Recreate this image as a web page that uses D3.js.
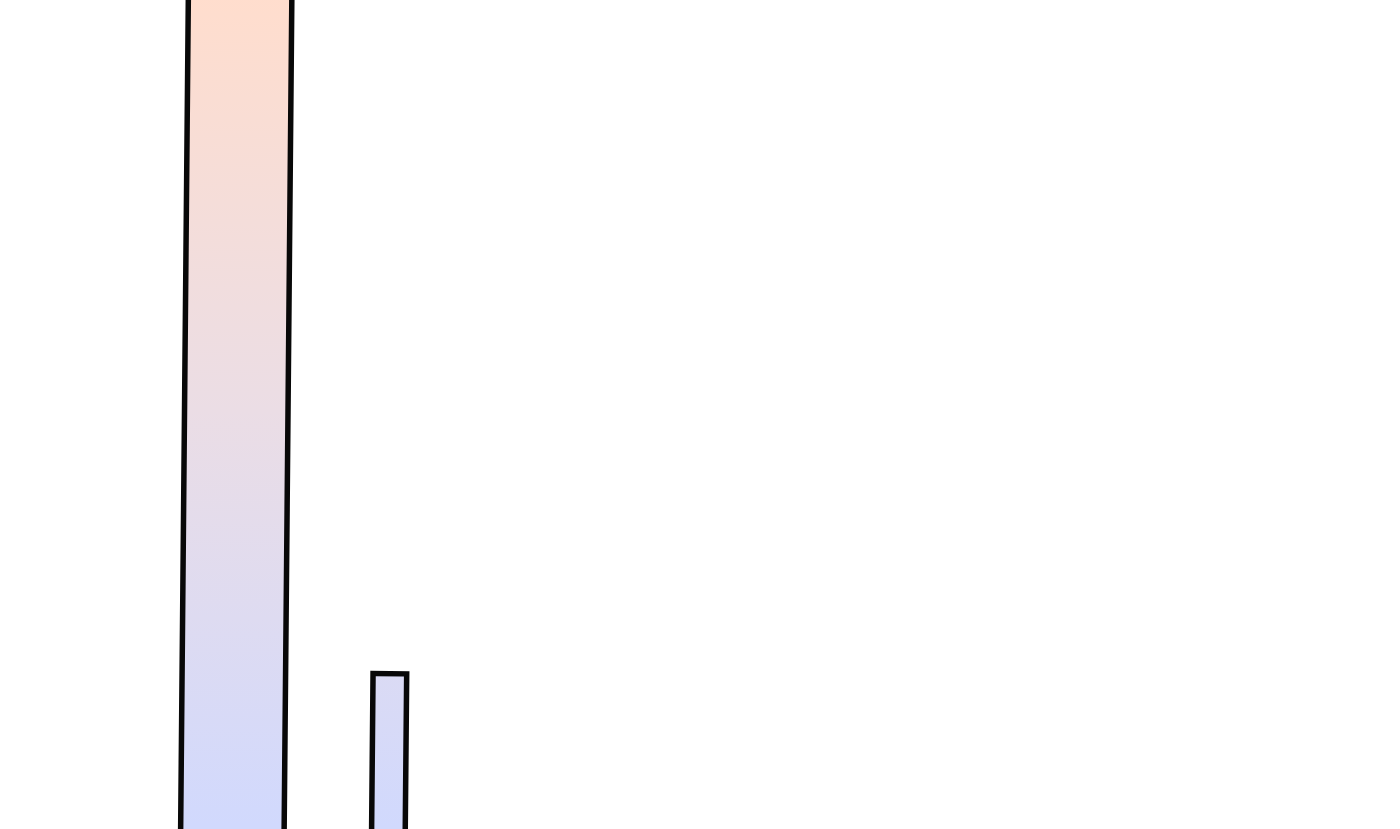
<!DOCTYPE html>
<html>
<head>
<meta charset="utf-8">
<script src="https://cdn.jsdelivr.net/npm/d3@7"></script>
<style>
html,body{margin:0;padding:0;background:#fff;overflow:hidden;}
svg{display:block;}
</style>
</head>
<body>
<svg id="chart" width="1400" height="829"></svg>
<script>
// Data
const categories = ["A", "B"];
const binStart = [0, 18.45];
const binEnd = [10, 21.7];
const values = [130, 20];

const W = 1400, H = 829;
const svg = d3.select("#chart");

const x = d3.scaleLinear().domain([0, 10]).range([184.5, 288]);
const y = d3.scaleLinear().domain([0, 20]).range([872, 676.6]);

const defs = svg.append("defs");
const grad = defs.append("linearGradient")
  .attr("id", "barGrad")
  .attr("gradientUnits", "userSpaceOnUse")
  .attr("x1", 0).attr("y1", 0).attr("x2", 0).attr("y2", H);
grad.append("stop").attr("offset", "0%").attr("stop-color", "#ffddcd");
grad.append("stop").attr("offset", "50%").attr("stop-color", "#ebdde5");
grad.append("stop").attr("offset", "100%").attr("stop-color", "#d1d9fd");

const data = categories.map((c, i) => ({c, x0: binStart[i], x1: binEnd[i], v: values[i]}));

const g = svg.append("g").attr("transform", `rotate(0.53, ${W/2}, ${H/2})`);

g.selectAll("rect.bar").data(data).join("rect")
  .attr("class", "bar")
  .attr("x", d => x(d.x0))
  .attr("width", d => x(d.x1) - x(d.x0))
  .attr("y", d => y(d.v))
  .attr("height", d => y(0) - y(d.v))
  .attr("fill", "url(#barGrad)")
  .attr("stroke", "#080808")
  .attr("stroke-width", 5.5);
</script>
</body>
</html>
